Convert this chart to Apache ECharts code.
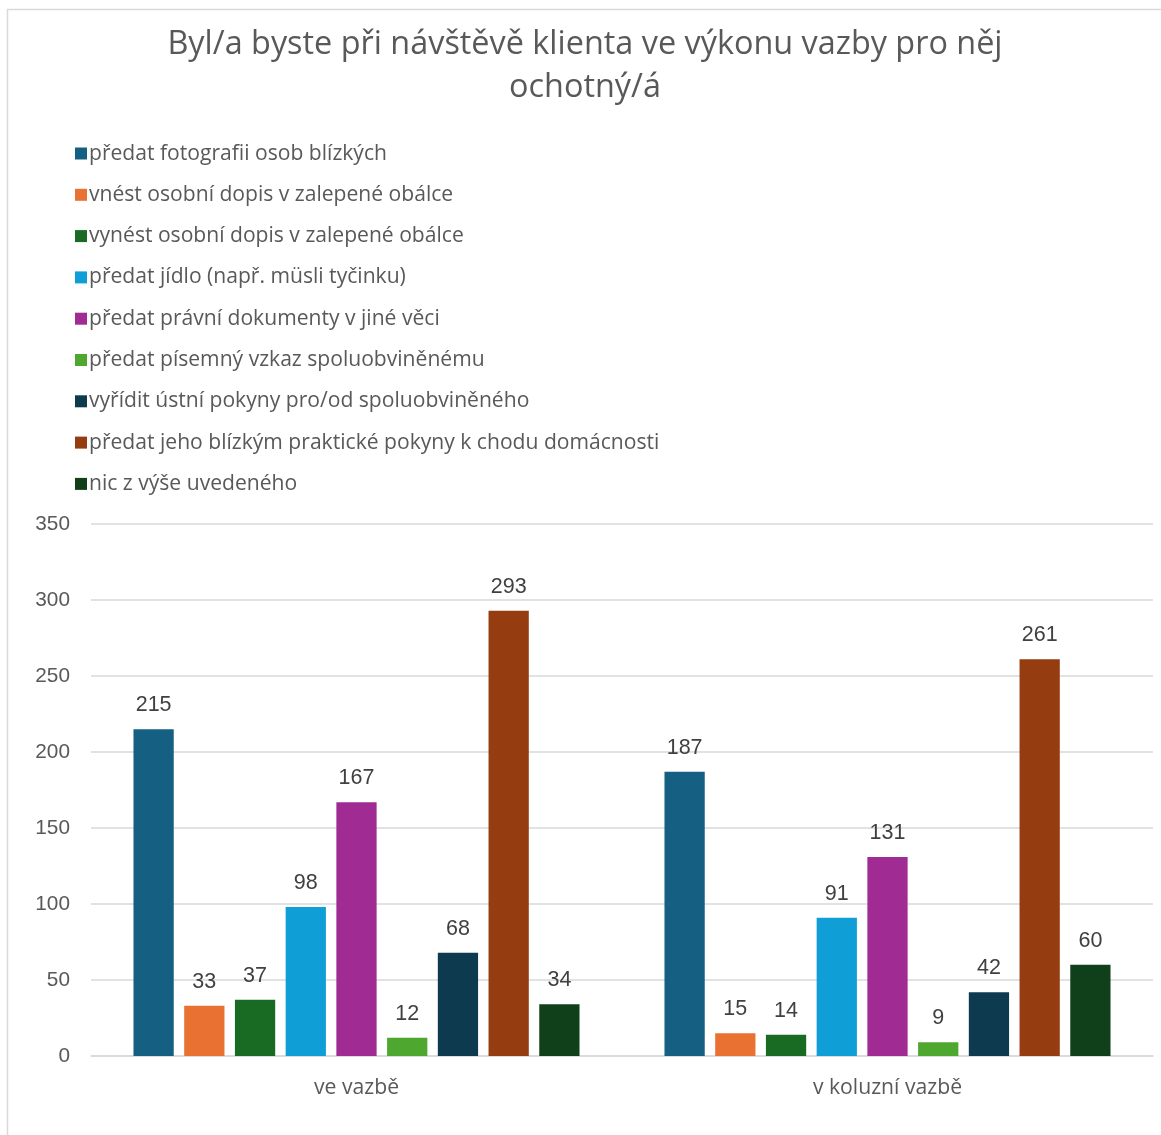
<!DOCTYPE html>
<html>
<head>
<meta charset="utf-8">
<script src="https://cdn.jsdelivr.net/npm/echarts@6/dist/echarts.min.js"></script>
<style>
html,body{margin:0;padding:0;background:#fff;}
#chart{width:1161px;height:1135px;}
</style>
</head>
<body>
<div id="chart"></div>
<script>
const titleText = 'Byl/a byste při návštěvě klienta ve výkonu vazby pro něj\nochotný/á';
const categories = ['ve vazbě', 'v koluzní vazbě'];
const seriesNames = [
  'předat fotografii osob blízkých',
  'vnést osobní dopis v zalepené obálce',
  'vynést osobní dopis v zalepené obálce',
  'předat jídlo (např. müsli tyčinku)',
  'předat právní dokumenty v jiné věci',
  'předat písemný vzkaz spoluobviněnému',
  'vyřídit ústní pokyny pro/od spoluobviněného',
  'předat jeho blízkým praktické pokyny k chodu domácnosti',
  'nic z výše uvedeného'
];
const fotografie = [215, 187];
const dopisVnest = [33, 15];
const dopisVynest = [37, 14];
const jidlo = [98, 91];
const pravniDokumenty = [167, 131];
const pisemnyVzkaz = [12, 9];
const ustniPokyny = [68, 42];
const praktickePokyny = [293, 261];
const nic = [34, 60];
const seriesValues = [fotografie, dopisVnest, dopisVynest, jidlo, pravniDokumenty, pisemnyVzkaz, ustniPokyny, praktickePokyny, nic];
const colors = ['#156082', '#E97132', '#196B24', '#0F9ED5', '#A02B93', '#4EA72E', '#0D3A4F', '#963C11', '#10401A'];
const yTicks = { min: 0, max: 350, interval: 50 };

const FONT = '"Open Sans", "Liberation Sans", Arial, sans-serif';
const NUMFONT = '"Liberation Sans", Arial, sans-serif';
const chart = echarts.init(document.getElementById('chart'), null, { renderer: 'canvas' });

chart.setOption({
  backgroundColor: '#fff',
  animation: false,
  color: colors,
  graphic: [{
    type: 'rect',
    shape: { x: 7.5, y: 9.5, width: 1200, height: 1200 },
    style: { fill: 'none', stroke: '#d9d9d9', lineWidth: 1.5 },
    silent: true
  }],
  title: {
    text: titleText,
    left: 580,
    top: 18,
    textAlign: 'center',
    textStyle: { fontFamily: FONT, fontSize: 32.4, fontWeight: 'normal', color: '#595959', lineHeight: 43 }
  },
  legend: {
    orient: 'vertical',
    left: 70,
    top: 138,
    itemWidth: 12,
    itemHeight: 12,
    itemGap: 20.3,
    icon: 'rect',
    data: seriesNames,
    textStyle: { fontFamily: FONT, fontSize: 21.1, color: '#595959', lineHeight: 20, padding: [0, 0, 0, -3] }
  },
  grid: { left: 91, right: 8, top: 524, bottom: 79, containLabel: false },
  xAxis: {
    type: 'category',
    data: categories,
    axisLine: { lineStyle: { color: '#d9d9d9', width: 1.5 } },
    axisTick: { show: false },
    axisLabel: { fontFamily: FONT, fontSize: 21.2, color: '#595959', margin: 21 }
  },
  yAxis: {
    type: 'value',
    min: yTicks.min,
    max: yTicks.max,
    interval: yTicks.interval,
    axisLine: { show: false },
    axisTick: { show: false },
    splitLine: { lineStyle: { color: '#d9d9d9', width: 1.5 } },
    axisLabel: { fontFamily: NUMFONT, fontSize: 20.8, color: '#595959', margin: 21 }
  },
  series: seriesNames.map((name, i) => ({
    name: name,
    type: 'bar',
    data: seriesValues[i],
    barGap: '26%',
    barCategoryGap: '16%',
    itemStyle: { color: colors[i] },
    label: {
      show: true,
      position: 'top',
      distance: 13,
      fontFamily: NUMFONT,
      fontSize: 21.5,
      color: '#404040'
    }
  }))
});
</script>
</body>
</html>
